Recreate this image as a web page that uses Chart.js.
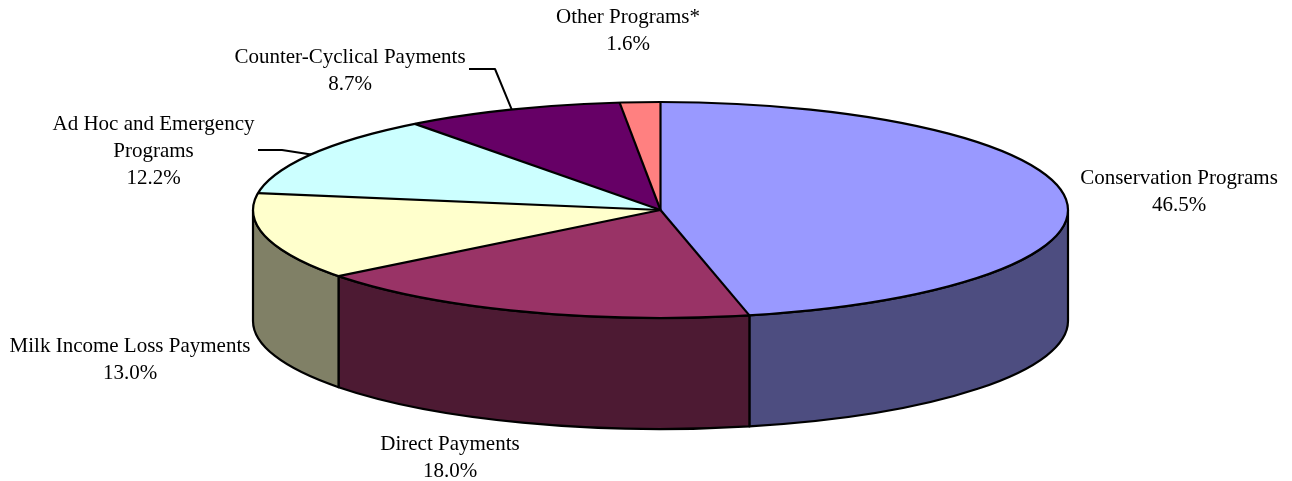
<!DOCTYPE html>
<html><head><meta charset="utf-8">
<script src="https://cdn.jsdelivr.net/npm/chart.js@4"></script>
<style>html,body{margin:0;padding:0;background:#fff;overflow:hidden}canvas{display:block}</style>
</head><body>
<canvas id="c" width="1292" height="481"></canvas>
<script>
const categories = ['Conservation Programs','Direct Payments','Milk Income Loss Payments','Ad Hoc and Emergency Programs','Counter-Cyclical Payments','Other Programs*'];
const shares = [46.5, 18.0, 13.0, 12.2, 8.7, 1.6];
const topColors = ['#9999FF','#993366','#FFFFCC','#CCFFFF','#660066','#FF8080'];
const sideColors = ['#4D4D80','#4D1A33','#808066','#668080','#330033','#804040'];
const labelLines = [['Conservation Programs'],['Direct Payments'],['Milk Income Loss Payments'],['Ad Hoc and Emergency','Programs'],['Counter-Cyclical Payments'],['Other Programs*']];
const labelPos = [[1179,184],[450,450],[130,352],[153.5,130],[350,63],[628,23]];
const leaders = [null,null,null,[[258,150],[282,150]],[[469,69],[495,69]],null];

const RX = 407.5, RY = 108, DEPTH = 111, LINE_H = 27;
const SX = RX / RY;

const pie3d = {
  id: 'pie3d',
  beforeDatasetsDraw(chart) {
    const ctx = chart.ctx;
    const arcs = chart.getDatasetMeta(0).data;
    const cx = arcs[0].x, cy = arcs[0].y;
    const ry = arcs[0].outerRadius, rx = ry * SX;
    ctx.save();
    ctx.lineWidth = 2.2; ctx.strokeStyle = '#000'; ctx.lineJoin = 'round';
    arcs.forEach((a, i) => {
      const s = Math.max(a.startAngle, 0), e = Math.min(a.endAngle, Math.PI);
      if (e <= s) return;
      ctx.beginPath();
      ctx.ellipse(cx, cy, rx, ry, 0, s, e, false);
      ctx.lineTo(cx + rx * Math.cos(e), cy + DEPTH + ry * Math.sin(e));
      ctx.ellipse(cx, cy + DEPTH, rx, ry, 0, e, s, true);
      ctx.closePath();
      ctx.fillStyle = sideColors[i];
      ctx.fill();
      ctx.stroke();
    });
    ctx.restore();
    ctx.save();
    ctx.translate(cx, cy); ctx.scale(SX, 1); ctx.translate(-cx, -cy);
  },
  afterDatasetsDraw(chart) {
    const ctx = chart.ctx;
    ctx.restore();
    const arcs = chart.getDatasetMeta(0).data;
    const cx = arcs[0].x, cy = arcs[0].y;
    const ry = arcs[0].outerRadius, rx = ry * SX;
    ctx.save();
    ctx.lineWidth = 2.2; ctx.strokeStyle = '#000'; ctx.lineJoin = 'round';
    ctx.beginPath();
    ctx.ellipse(cx, cy, rx, ry, 0, 0, Math.PI * 2);
    ctx.stroke();
    arcs.forEach(a => {
      ctx.beginPath();
      ctx.moveTo(cx, cy);
      ctx.lineTo(cx + rx * Math.cos(a.startAngle), cy + ry * Math.sin(a.startAngle));
      ctx.stroke();
    });
    ctx.lineWidth = 2;
    arcs.forEach((a, i) => {
      const pts = leaders[i];
      if (!pts) return;
      const m = (a.startAngle + a.endAngle) / 2;
      ctx.beginPath();
      ctx.moveTo(pts[0][0], pts[0][1]);
      for (let k = 1; k < pts.length; k++) ctx.lineTo(pts[k][0], pts[k][1]);
      ctx.lineTo(cx + rx * Math.cos(m), cy + ry * Math.sin(m));
      ctx.stroke();
    });
    ctx.fillStyle = '#000';
    ctx.font = '21px "Liberation Serif", "Times New Roman", serif';
    ctx.textAlign = 'center';
    ctx.textBaseline = 'alphabetic';
    shares.forEach((v, i) => {
      const lines = labelLines[i].concat([v.toFixed(1) + '%']);
      const [x, y] = labelPos[i];
      lines.forEach((t, k) => ctx.fillText(t, x, y + k * LINE_H));
    });
    ctx.restore();
  }
};

new Chart(document.getElementById('c'), {
  type: 'pie',
  data: {
    labels: categories,
    datasets: [{ data: shares, backgroundColor: topColors, borderWidth: 0, clip: false, radius: RY }]
  },
  options: {
    responsive: false,
    animation: false,
    devicePixelRatio: 1,
    events: [],
    layout: { padding: { left: 252, right: 223, top: 102, bottom: 163 } },
    plugins: { legend: { display: false }, tooltip: { enabled: false } }
  },
  plugins: [pie3d]
});
</script>
</body></html>
